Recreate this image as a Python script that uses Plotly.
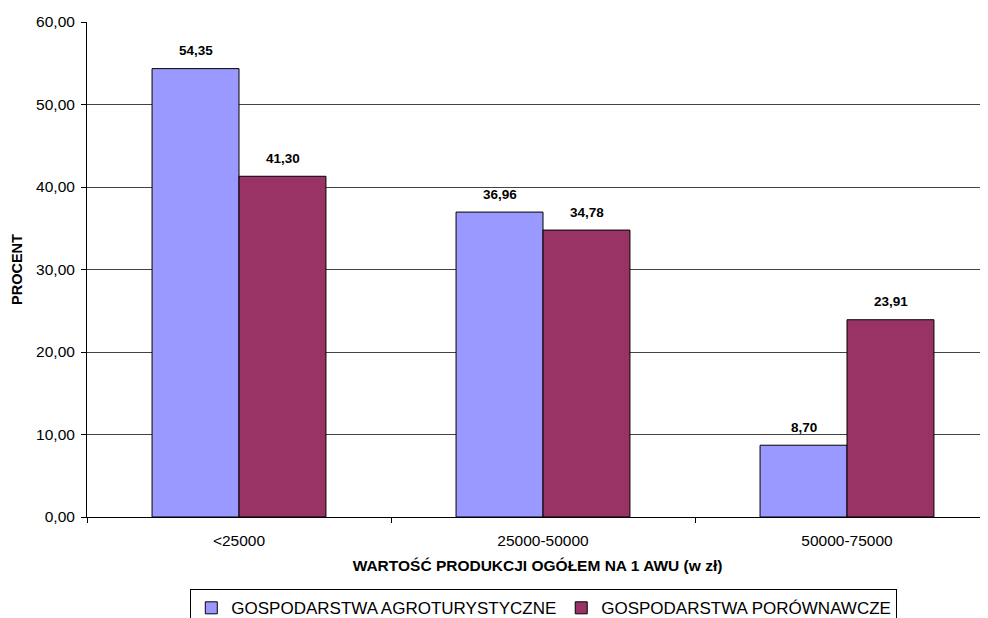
import plotly.graph_objects as go

categories = ["<25000", "25000-50000", "50000-75000"]
series_names = ["GOSPODARSTWA AGROTURYSTYCZNE", "GOSPODARSTWA PORÓWNAWCZE"]
agro_values = [54.35, 36.96, 8.70]
porown_values = [41.30, 34.78, 23.91]
series_colors = ["#9999FF", "#993366"]
y_ticks = [0, 10, 20, 30, 40, 50, 60]

FONT = "Liberation Sans, Arial, sans-serif"

fig = go.Figure()
for name, vals, col in zip(series_names, [agro_values, porown_values], series_colors):
    fig.add_trace(go.Bar(
        x=categories, y=vals, name=name,
        marker=dict(color=col, line=dict(color="black", width=1)),
    ))

# data labels above bars
BAR_PX = 87
for i, vals in enumerate([agro_values, porown_values]):
    shift = (-0.5 + i) * BAR_PX
    for c, v in zip(categories, vals):
        fig.add_annotation(
            x=c, y=v, xref="x", yref="y", text=f"{v:.2f}".replace(".", ","),
            showarrow=False, xshift=shift, yshift=18, yanchor="middle",
            font=dict(family=FONT, size=13.5, color="black", weight="bold"),
        )

# page body has an 8px default margin; compensate in figure size/margins
fig.update_layout(
    width=980, height=610,
    margin=dict(l=79, r=0, t=14, b=101, autoexpand=False),
    paper_bgcolor="white", plot_bgcolor="white",
    barmode="group", bargap=0.428, bargroupgap=0,
    separators=",.",
    font=dict(family=FONT, color="black"),
    showlegend=True,
    legend=dict(
        orientation="h", x=0.507, xanchor="center", y=-0.146, yanchor="top",
        bordercolor="black", borderwidth=1, bgcolor="white",
        font=dict(family=FONT, size=17, color="black"),
        traceorder="normal",
    ),
)

fig.update_xaxes(
    type="category", range=[-0.5, 2.5 - 11 / 304],
    showline=True, linecolor="black", linewidth=1,
    ticks="outside", tickson="boundaries", ticklen=5, tickcolor="black",
    ticklabelstandoff=9,
    tickfont=dict(family=FONT, size=15.5, color="black"),
    showgrid=False,
    title=dict(text="WARTOŚĆ PRODUKCJI OGÓŁEM NA 1 AWU (w zł)",
               font=dict(family=FONT, size=15.5, color="black", weight="bold"),
               standoff=12),
)
fig.update_yaxes(
    range=[0, 60], tickvals=y_ticks, tickformat=".2f",
    showline=True, linecolor="black", linewidth=1,
    ticks="outside", ticklen=5, tickcolor="black",
    ticklabelstandoff=3,
    tickfont=dict(family=FONT, size=15.5, color="black"),
    showgrid=True, gridcolor="#444", gridwidth=1, zeroline=False,
    title=dict(text="PROCENT",
               font=dict(family=FONT, size=14.5, color="black", weight="bold"),
               standoff=10),
)

fig.write_html("out.html")
